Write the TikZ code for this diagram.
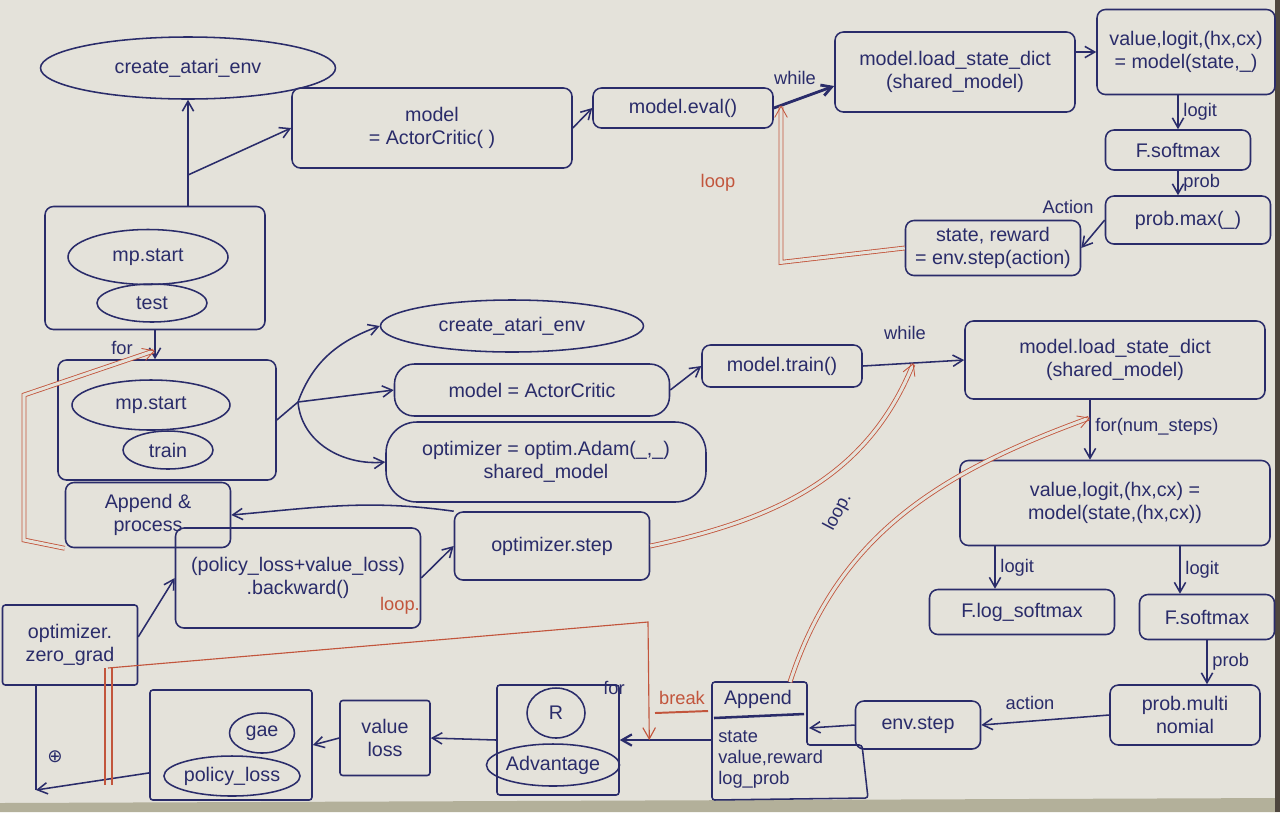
\documentclass[tikz,border=0pt]{standalone}
\usepackage{fontspec}
\setmainfont{Liberation Sans}
\newfontfamily\symfont{DejaVu Sans}
\usetikzlibrary{shapes.geometric,arrows.meta,calc}
\definecolor{paper}{HTML}{E4E2DA}
\definecolor{ink}{HTML}{2A2C6A}
\definecolor{redink}{HTML}{C2553C}
\definecolor{tableedge}{HTML}{B3B09A}
\definecolor{shadow}{HTML}{4E463E}

\begin{document}
\begin{tikzpicture}[x=0.025cm,y=-0.025cm,
  every node/.style={font=\fontsize{14}{16}\selectfont, text=ink},
  box/.style={draw=ink, line width=1.1pt, rounded corners=6pt, align=center, inner sep=2pt},
  oval/.style={draw=ink, line width=1.1pt, ellipse, align=center, inner sep=0pt},
  wh/.style 2 args={minimum width=#1*0.025cm, minimum height=#2*0.025cm},
  link/.style={draw=ink, line width=1.1pt, -{Straight Barb[length=7pt,width=8pt]}},
  plain/.style={draw=ink, line width=1.1pt},
  loopline/.style={draw=redink, line width=0.6pt, double=paper, double distance=2.2pt, -{Straight Barb[length=8pt,width=9pt]}},
  redthin/.style={draw=redink, line width=0.8pt},
  lbl/.style={font=\fontsize{13}{15}\selectfont, text=ink},
  rlbl/.style={font=\fontsize{13}{15}\selectfont, text=redink},
]
\useasboundingbox (0,0) rectangle (1280,812);
% sheet of paper on the table
\fill[paper] (0,0) rectangle (1280,812);
\fill[tableedge] (0,803) -- (1280,798) -- (1280,812) -- (0,812) -- cycle;
\fill[shadow] (1275,0) rectangle (1280,812);

% ---------- test process ----------
\node[oval, wh={295}{62}] (envA) at (188,68) {create\_atari\_env};
\node[box, wh={280}{80}] (modelA) at (432,128) {model\\= ActorCritic( )};
\node[box, wh={180}{40}] (evalA) at (683,108) {model.eval()};
\node[box, wh={240}{80}] (loadA) at (955,72) {model.load\_state\_dict\\(shared\_model)};
\node[box, wh={178}{85}] (valA) at (1186,52) {value,logit,(hx,cx)\\= model(state,\_)};
\node[box, wh={145}{40}] (softA) at (1178,150) {F.softmax};
\node[box, wh={165}{48}] (maxA) at (1188,220) {prob.max(\_)};
\node[box, wh={175}{55}] (stepA) at (993,248) {state, reward\\= env.step(action)};

\node[box, wh={220}{123}] (testbox) at (155,268) {};
\node[oval, wh={160}{55}] (mpA) at (148,257) {mp.start};
\node[oval, wh={110}{38}] (testov) at (152,303) {test};

\draw[link] (envA.south |- testbox.north) -- (envA.south);
\coordinate (j1) at (188,175);
\draw[link] (j1) -- (modelA.west);
\draw[link] (modelA.east) -- (evalA.west);
\coordinate (inA) at ($(loadA.west)+(0,14)$);
\draw[link, line width=2pt] (evalA.east) -- (inA);
\node[lbl] (whileA) at (795,78) {while};
\draw[link] (loadA.east |- valA.west) -- (valA.west);
\draw[link] (softA.north |- valA.south) -- node[lbl, right]{logit} (softA.north);
\draw[link] (softA.south) -- node[lbl, right]{prob} (softA.south |- maxA.north);
\draw[link] (maxA.west) -- (stepA.east);
\node[lbl] (actlbl) at (1068,207) {Action};

\coordinate (wA) at ($(evalA.east)!0.12!(inA)$);
\coordinate (c1) at ($(wA)+(0,157)$);
\draw[loopline] (stepA.west) -- (c1) -- (wA);
\node[rlbl] (loopA) at (718,183) {loop};

% ---------- train process ----------
\node[box, wh={218}{120}] (trainbox) at (167,420) {};
\node[oval, wh={158}{50}] (mpB) at (151,405) {mp.start};
\node[oval, wh={90}{38}] (trainov) at (168,450) {train};
\node[box, wh={165}{65}] (appendP) at (148,515) {Append \&\\process};

\draw[link] (testbox.south) -- (testbox.south |- trainbox.north);
\node[lbl] (forA) at (122,348) {for};
\coordinate (r1) at ($(testbox.south)!0.7!(testbox.south |- trainbox.north)$);
\coordinate (r2) at (24,540);
\coordinate (r3) at (24,395);
\draw[loopline] (appendP.south west) -- (r2) -- (r3) -- (r1);

\node[oval, wh={263}{52}] (envB) at (512,326) {create\_atari\_env};
\node[box, rounded corners=14pt, wh={275}{52}] (modelB) at (532,390) {model = ActorCritic};
\node[box, rounded corners=22pt, wh={320}{80}] (optB) at (546,462) {optimizer = optim.Adam(\_,\_)\\shared\_model};

\coordinate (j2) at (298,402);
\draw[plain] (trainbox.east) -- (j2);
\draw[link] (j2) to[out=70,in=200] (envB.west);
\draw[link] (j2) -- (modelB.west);
\draw[link] (j2) to[out=-85,in=185] (optB.west);

\node[box, wh={160}{42}] (trainB) at (782,366) {model.train()};
\node[box, wh={300}{78}] (loadB) at (1115,360) {model.load\_state\_dict\\(shared\_model)};
\node[box, wh={310}{85}] (valB) at (1115,503) {value,logit,(hx,cx) =\\model(state,(hx,cx))};
\node[box, wh={185}{45}] (logsoftB) at (1022,612) {F.log\_softmax};
\node[box, wh={135}{45}] (softB) at (1207,617) {F.softmax};
\node[box, wh={150}{60}] (multB) at (1185,715) {prob.multi\\nomial};
\node[box, wh={125}{48}] (envstepB) at (918,725) {env.step};

\draw[link] (modelB.east) -- (trainB.west);
\draw[link] (trainB.east) -- (loadB.west);
\node[lbl] (whileB) at (905,333) {while};
\coordinate (fa) at ($(loadB.south)+(-25,0)$);
\draw[link] (fa) -- node[lbl, right, pos=0.45]{for(num\_steps)} (fa |- valB.north);
\coordinate (vl) at (995,546);
\draw[link] (vl) -- node[lbl, right]{logit} (vl |- logsoftB.north);
\coordinate (vr) at (1180,546);
\draw[link] (vr) -- node[lbl, right]{logit} (vr |- softB.north);
\draw[link] (softB.south) -- node[lbl, right]{prob} (softB.south |- multB.north);
\draw[link] (multB.west) -- (envstepB.east);
\node[lbl] (actB) at (1030,703) {action};

% rollout record
\node (appendB) at (758,699) {Append};
\node[align=left, anchor=north west, inner sep=0pt, font=\fontsize{13}{15}\selectfont] (appendRec) at (718,730) {state\\value,reward\\log\_prob};
\draw[ink, line width=1.1pt, rounded corners=2pt] (712,682) -- (807,682) -- (807,745) -- (862,745) -- (868,798) -- (712,800) -- cycle;
\draw[ink, line width=1.8pt] (714,718) -- (804,714);
\coordinate (appIn) at (809,728);
\coordinate (appOut) at (712,740);
\draw[link] (envstepB.west) -- (appIn);

\node[box, rounded corners=2pt, wh={122}{110}] (advB) at (558,740) {};
\node[oval, wh={58}{50}] (Rov) at (556,713) {R};
\node[oval, wh={120}{42}] (advov) at (553,765) {Advantage};
\node[box, rounded corners=2pt, wh={90}{75}] (vlossB) at (385,738) {value\\loss};
\node[box, rounded corners=2pt, wh={162}{110}] (gaeB) at (231,745) {};
\node[oval, wh={65}{40}] (gaeov) at (262,733) {gae};
\node[oval, wh={135}{40}] (polov) at (232,776) {policy\_loss};
\node[box, rounded corners=2pt, wh={135}{80}] (zeroB) at (70,645) {optimizer.\\zero\_grad};
\node[box, wh={245}{100}] (backB) at (298,578) {(policy\_loss+value\_loss)\\.backward()};
\node[box, wh={195}{68}] (optstepB) at (552,546) {optimizer.step};

\draw[link, line width=1.6pt] (appOut) -- (advB.east);
\node[lbl] (forB) at (614,688) {for};
\node[rlbl] (breakB) at (682,698) {break};
\draw[redthin, line width=1.4pt] (655,713) -- (708,711);
\draw[link] (advB.west) -- (vlossB.east);
\draw[link] (vlossB.west) -- (gaeB.east);
\coordinate (gW) at ($(gaeB.south west)!0.25!(gaeB.north west)$);
\coordinate (z1) at (36,790);
\draw[link] (gW) -- (z1);
\draw[plain, line width=1.6pt] (z1) -- (z1 |- zeroB.south);
\node[font=\symfont\fontsize{13}{15}\selectfont] (mark) at (55,757) {⊕};
\draw[link] ($(zeroB.north east)!0.4!(zeroB.south east)$) -- (backB.west);
\draw[link] (backB.east) -- (optstepB.west);
\draw[link] (optstepB.north west) to[out=172,in=5] (appendP.east);

% red loops of the training process
\coordinate (wB) at ($(trainB.east)!0.5!(loadB.west)$);
\draw[loopline] (optstepB.east) to[out=12,in=-112] (wB);
\coordinate (wC) at ($(fa)!0.3!(fa |- valB.north)$);
\coordinate (aTop) at (790,682);
\draw[loopline] (aTop) to[out=72,in=200] (wC);
\node[lbl, rotate=62] (loopB) at (838,512) {loop.};

\coordinate (q1) at (108,785);
\coordinate (q2) at (108,668);
\coordinate (q4) at ($(appOut)!0.68!(advB.east)$);
\coordinate (q3) at (648,622);
\draw[redthin] (105,785) -- (105,668);
\draw[redthin] (112,785) -- (112,668);
\draw[redthin, -{Straight Barb[length=8pt,width=9pt]}] (q2) -- (q3) -- (q4);
\node[rlbl] (loopC) at (400,606) {loop.};
\end{tikzpicture}
\end{document}
